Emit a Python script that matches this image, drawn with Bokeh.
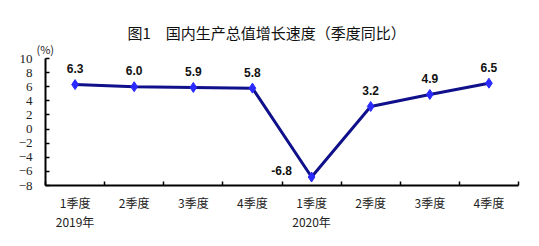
from bokeh.plotting import figure
from bokeh.models import FixedTicker, ColumnDataSource, Range1d, Title, LinearAxis
from bokeh.core.properties import value
from bokeh.embed import file_html
from bokeh.resources import INLINE

quarters = ["1季度", "2季度", "3季度", "4季度", "1季度", "2季度", "3季度", "4季度"]
years = ["2019年", "2020年"]
year_pos = [0, 4]
growth = [6.3, 6.0, 5.9, 5.8, -6.8, 3.2, 4.9, 6.5]
yticks = [-8, -6, -4, -2, 0, 2, 4, 6, 8, 10]
title_text = "图1　国内生产总值增长速度（季度同比）"
unit_text = "(%)"

xs = [i + 0.5 for i in range(len(growth))]
labels = [f"{v:.1f}" for v in growth]
xoff = [-30 if v < 0 else 0 for v in growth]
yoff = [-7 if v < 0 else -16 for v in growth]
src = ColumnDataSource(dict(x=xs, y=growth, t=labels, xo=xoff, yo=yoff))

p = figure(width=539, height=246, output_backend="svg", toolbar_location=None,
           x_range=Range1d(0, len(growth)), y_range=Range1d(-8, 10),
           min_border_left=45, min_border_right=21, min_border_top=58, min_border_bottom=61)
p.outline_line_color = None
p.xgrid.visible = False
p.ygrid.visible = False
p.background_fill_color = "white"
p.border_fill_color = "white"

p.line(xs, growth, line_color="#10108a", line_width=3)
p.scatter(xs, growth, marker="diamond", size=10, fill_color="#2a2aff", line_color="#2a2aff")
p.text(x="x", y="y", text="t", source=src, x_offset="xo", y_offset="yo",
       text_align="center", text_baseline="middle", text_font=value("Liberation Sans"),
       text_font_style="bold", text_font_size="12px", text_color="#111111")

# y axis
ya = p.yaxis[0]
ya.ticker = FixedTicker(ticks=yticks)
ya.major_tick_in = 4
ya.major_tick_out = 0
ya.minor_tick_line_color = None
ya.axis_line_width = 2
ya.major_tick_line_width = 1.5
ya.major_label_text_font = "Liberation Serif"
ya.major_label_text_font_size = "13px"
ya.major_label_text_color = "#222222"
ya.major_label_standoff = 13

# x axis (quarters)
xa = p.xaxis[0]
xa.ticker = FixedTicker(ticks=xs, minor_ticks=list(range(len(growth) + 1)))
xa.major_label_overrides = {x: q for x, q in zip(xs, quarters)}
xa.major_tick_line_color = None
xa.major_tick_in = 0
xa.major_tick_out = 0
xa.minor_tick_in = 4
xa.minor_tick_out = 0
xa.minor_tick_line_width = 1.5
xa.axis_line_width = 2
xa.major_label_text_font = "Noto Sans CJK SC"
xa.major_label_text_font_size = "12px"
xa.major_label_text_color = "#222222"
xa.major_label_standoff = 8

# years axis
yx = [pos + 0.5 for pos in year_pos]
ya2 = LinearAxis(ticker=FixedTicker(ticks=yx, minor_ticks=[]),
                 major_label_overrides={x: y for x, y in zip(yx, years)})
ya2.axis_line_color = None
ya2.major_tick_line_color = None
ya2.minor_tick_line_color = None
ya2.major_tick_in = 0
ya2.major_tick_out = 0
ya2.major_label_standoff = -1
ya2.major_label_text_font = "Noto Sans CJK SC"
ya2.major_label_text_font_size = "12px"
ya2.major_label_text_color = "#222222"
p.add_layout(ya2, "below")

# titles
p.title.text = title_text
p.title.align = "left"
p.title.text_font = "Noto Sans CJK SC"
p.title.text_font_size = "15px"
p.title.text_font_style = "normal"
p.title.text_color = "#111111"
p.title.offset = 82
p.title.standoff = -11

unit = Title(text=unit_text, align="left", offset=-9, text_font="Noto Sans CJK SC",
             text_font_size="11px", text_font_style="normal", text_color="#222222", standoff=3)
p.add_layout(unit, "above")

open("out.html", "w").write(file_html(p, INLINE))
